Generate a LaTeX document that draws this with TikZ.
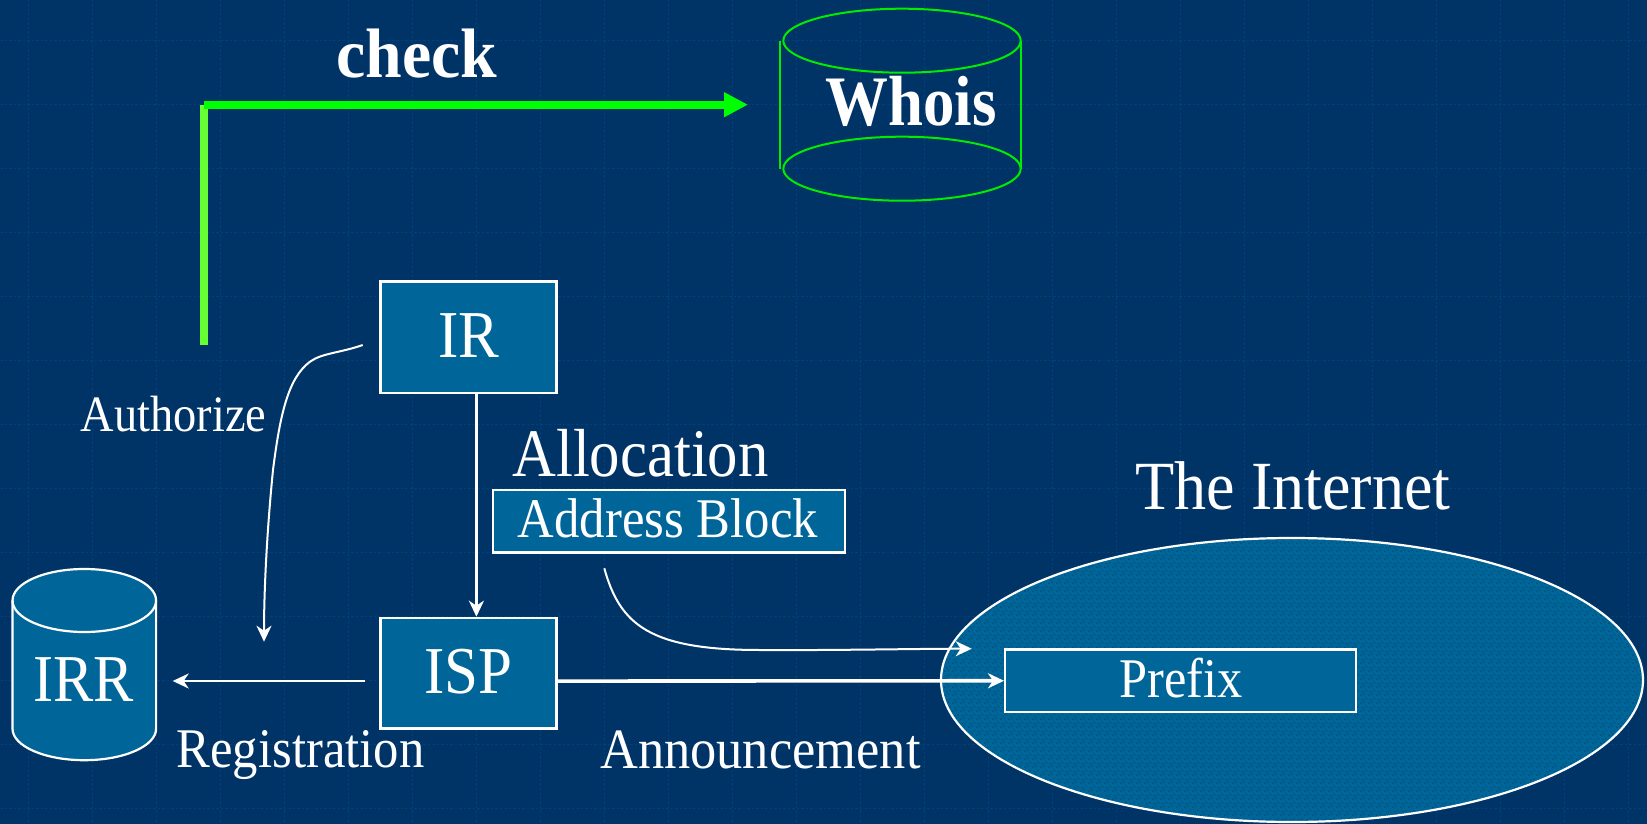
\documentclass[tikz,border=0pt]{standalone}
\usepackage{fontspec}
\setmainfont{Liberation Serif}
\usetikzlibrary{arrows.meta,patterns}
\definecolor{bgblue}{HTML}{003366}
\definecolor{gridblue}{HTML}{003F80}
\definecolor{boxblue}{HTML}{006699}
\definecolor{specks}{HTML}{00527F}
\definecolor{greenA}{HTML}{00FF00}
\definecolor{greenB}{HTML}{66FF33}
\newcommand{\lbl}[3]{\scalebox{#1}[1]{\fontsize{#2}{#2}\selectfont #3}}
\pgfdeclarepatternformonly{mottle}{\pgfqpoint{0pt}{0pt}}{\pgfqpoint{8pt}{8pt}}{\pgfqpoint{8pt}{8pt}}{
  \pgfpathrectangle{\pgfqpoint{0pt}{0pt}}{\pgfqpoint{2pt}{1.5pt}}
  \pgfpathrectangle{\pgfqpoint{4pt}{1pt}}{\pgfqpoint{1.5pt}{2pt}}
  \pgfpathrectangle{\pgfqpoint{2pt}{4pt}}{\pgfqpoint{2pt}{1.5pt}}
  \pgfpathrectangle{\pgfqpoint{6pt}{5pt}}{\pgfqpoint{1.5pt}{2pt}}
  \pgfusepath{fill}
}
\tikzset{
  gridline/.style={draw=gridblue,line width=1.5pt,dash pattern=on 2.5pt off 2pt},
  bluebox/.style={draw=white,line width=2.2pt,fill=boxblue,inner sep=0pt,anchor=north west},
  txt/.style={text=white,inner sep=0pt,anchor=base},
  thinarr/.style={draw=white,line width=2pt,-{Stealth[length=16pt,width=15pt,inset=5pt]}},
  thickarr/.style={draw=white,line width=3.6pt,-{Stealth[length=16pt,width=15pt,inset=5pt]}},
  dbwhite/.style={draw=white,line width=2.2pt,fill=boxblue},
  dbgreen/.style={draw=greenA!93!black,line width=2pt},
}
\begin{document}
\begin{tikzpicture}[x=1pt,y=-1pt]
\useasboundingbox (0,0) rectangle (1647,824);
\fill[bgblue] (0,0) rectangle (1647,824);
% grid
\foreach \gx in {28.3,92.3,...,1647} {\draw[gridline] (\gx,0) -- (\gx,824);}
\foreach \gy in {40.7,104.7,...,824} {\draw[gridline] (0,\gy) -- (1647,\gy);}
% internet cloud
\fill[boxblue] (1292,680) ellipse [x radius=351pt,y radius=142pt];
\fill[pattern=mottle,pattern color=specks] (1292,680) ellipse [x radius=351pt,y radius=142pt];
\draw[white,line width=2.2pt] (1292,680) ellipse [x radius=351pt,y radius=142pt];
% Whois cylinder
\draw[dbgreen] (902,40.7) ellipse [x radius=118.7pt,y radius=32pt];
\draw[dbgreen] (902,168.7) ellipse [x radius=118.7pt,y radius=32pt];
\draw[dbgreen] (780.3,40.7) -- (780.3,168.7);
\draw[dbgreen] (1021,40.7) -- (1021,168.7);
% IRR cylinder
\draw[dbwhite] (12.5,600.5) -- (12.5,728.7) arc[start angle=180,end angle=360,x radius=71.8pt,y radius=31.5pt] -- (156.1,600.5) arc[start angle=0,end angle=180,x radius=71.8pt,y radius=31.5pt] -- cycle;
\draw[white,line width=2.2pt] (12.5,600.5) arc[start angle=180,end angle=360,x radius=71.8pt,y radius=31.5pt];
% boxes
\node[bluebox,minimum width=176pt,minimum height=111.4pt] (IR) at (379.3,280.3) {};
\node[bluebox,minimum width=176pt,minimum height=110.6pt] (ISP) at (379.3,616.7) {};
\node[bluebox,minimum width=352pt,minimum height=62.6pt] (AB) at (491.8,488.7) {};
\node[bluebox,minimum width=351pt,minimum height=62.7pt] (PF) at (1004,648.3) {};
% texts
\node[txt] (tcheck) at (417,78) {\lbl{0.94}{70}{\bfseries check}};
\node[txt] (twhois) at (911,126) {\lbl{0.885}{71}{\bfseries Whois}};
\node[txt] (tir) at (468.5,357) {\lbl{0.91}{67}{IR}};
\node[txt] (tisp) at (468.5,693) {\lbl{0.91}{67}{ISP}};
\node[txt] (tirr) at (83.7,701) {\lbl{0.9}{67}{IRR}};
\node[txt] (talloc) at (640.5,476.7) {\lbl{0.893}{68}{Allocation}};
\node[txt] (tab) at (668,537) {\lbl{0.906}{56}{Address Block}};
\node[txt] (tpf) at (1180.8,697.7) {\lbl{0.9}{56}{Prefix}};
\node[txt] (tnet) at (1293,509.3) {\lbl{0.93}{69}{The Internet}};
\node[txt] (tann) at (760.4,768.3) {\lbl{0.92}{57}{Announcement}};
\node[txt] (treg) at (300.5,767) {\lbl{0.905}{56}{Registration}};
\node[txt] (taut) at (173.5,431.3) {\lbl{0.91}{51}{Authorize}};
% named free ends
\coordinate (gstart) at (204,345);
\coordinate (gcorner) at (204,104.7);
\coordinate (gtip) at (748,104.7);
\coordinate (authA) at (362.7,345);
\coordinate (authB) at (264,641.7);
\coordinate (abA) at (604.3,568.3);
\coordinate (abB) at (971.7,648.7);
\coordinate (regA) at (365,681);
\coordinate (regB) at (172.7,681);
% green connector
\draw[greenB,line width=8pt] (gstart) -- (gcorner);
\draw[greenA,line width=7.7pt,-{Triangle[length=24pt,width=23.4pt]}] (gcorner) -- (gtip);
% white connectors
\draw[thickarr] ([xshift=8pt]IR.south) -- ([xshift=8pt]ISP.north);
\draw[thickarr] ([yshift=-8pt]ISP.east) -- (PF.west);
\draw[thinarr] (regA) -- (regB);
\draw[thinarr] (authA) .. controls (340,353) and (322,353) .. (310,361.7)
  .. controls (288,378) and (280,415) .. (273,470)
  .. controls (267,530) and (264,590) .. (authB);
\draw[thinarr] (abA) .. controls (620,625) and (650,650) .. (760,650)
  .. controls (830,650.5) and (920,648.7) .. (abB);
\end{tikzpicture}
\end{document}
